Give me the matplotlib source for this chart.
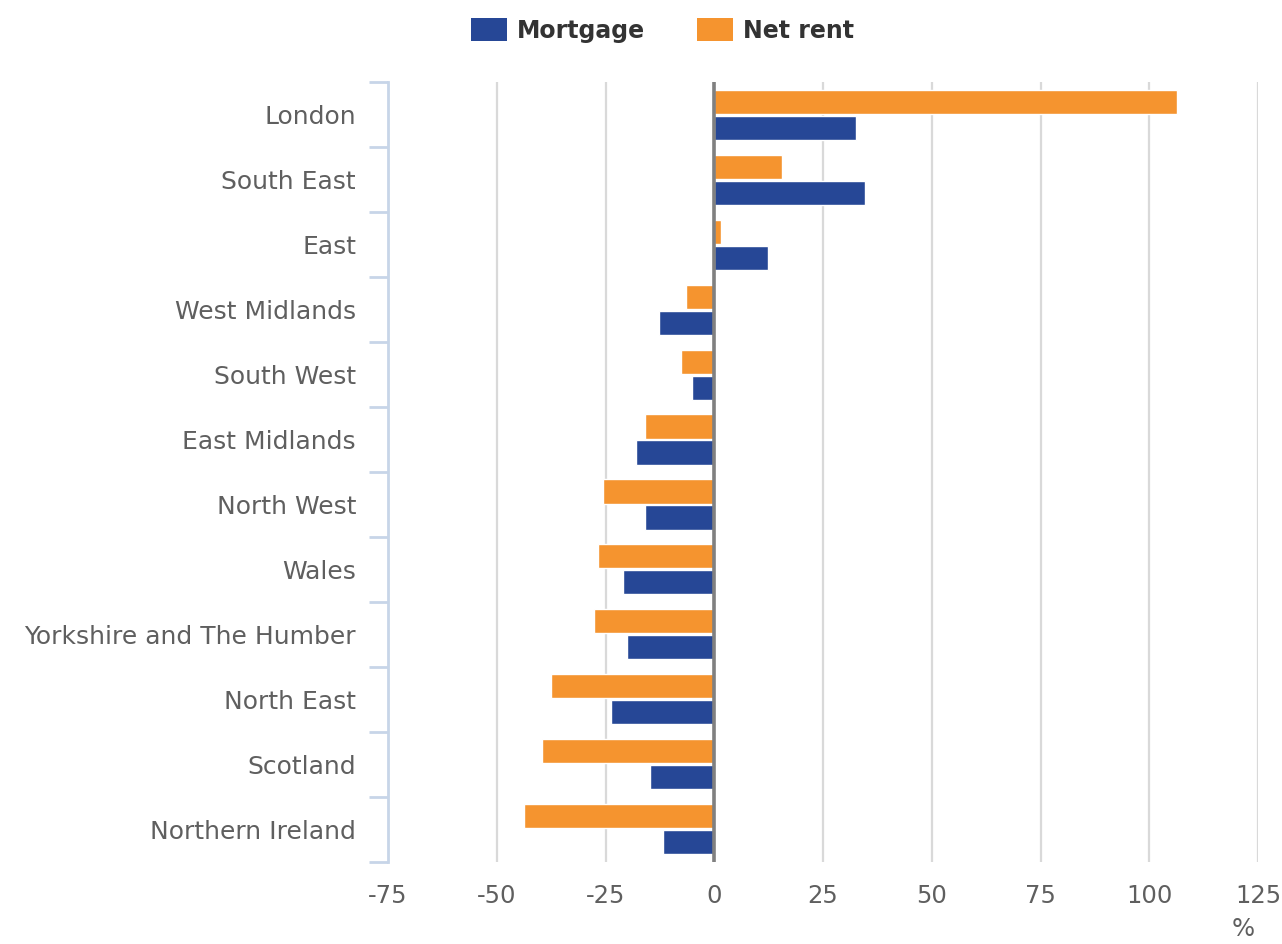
import numpy as np
import matplotlib
matplotlib.use("Agg")
import matplotlib.pyplot as plt
from matplotlib.patches import Patch

plt.rcParams["font.family"] = ["DejaVu Sans"]

regions = ["London", "South East", "East", "West Midlands", "South West",
           "East Midlands", "North West", "Wales", "Yorkshire and The Humber",
           "North East", "Scotland", "Northern Ireland"]
mortgage = [32.6, 34.7, 12.4, -12.6, -5.1, -17.9, -15.9, -20.9, -20.0, -23.7, -14.7, -11.7]
net_rent = [106.4, 15.5, 1.5, -6.5, -7.6, -15.9, -25.5, -26.7, -27.6, -37.5, -39.5, -43.7]
x_ticks = [-75, -50, -25, 0, 25, 50, 75, 100, 125]

BLUE = "#264796"
ORANGE = "#f5942f"
TEXT = "#5f5f5f"

fig = plt.figure(figsize=(12.82, 9.44), dpi=100)
ax = fig.add_axes([0.3027, 0.087, 0.6786, 0.826])

y = np.arange(len(regions))
h = 0.37
ax.barh(y - 0.2, net_rent, height=h, color=ORANGE, edgecolor="white", lw=1, zorder=2)
ax.barh(y + 0.2, mortgage, height=h, color=BLUE, edgecolor="white", lw=1, zorder=2)
ax.axvline(0, color="#808080", lw=2.6, zorder=3)

ax.set_xlim(-75, 125)
ax.set_ylim(len(regions) - 0.5, -0.5)
ax.set_xticks(x_ticks)
ax.set_xticklabels([str(t) for t in x_ticks], fontsize=17.5, color=TEXT)
ax.tick_params(axis="x", length=0, pad=16)
ax.grid(axis="x", color="#d9d9d9", lw=1.6, zorder=0)

ax.set_yticks(y)
ax.set_yticklabels(regions, fontsize=18, color=TEXT)
ax.set_yticks(np.arange(len(regions) + 1) - 0.5, minor=True)
ax.tick_params(axis="y", which="major", length=0, pad=23)
ax.tick_params(axis="y", which="minor", length=14, width=2, color="#c7d5e8")

for s in ["top", "right", "bottom"]:
    ax.spines[s].set_visible(False)
ax.spines["left"].set_color("#c7d5e8")
ax.spines["left"].set_linewidth(2)

fig.text(0.97, 0.003, "%", fontsize=17.5, color=TEXT, ha="center", va="bottom")

handles = [Patch(facecolor=BLUE, label="Mortgage"), Patch(facecolor=ORANGE, label="Net rent")]
fig.legend(handles=handles, loc="upper center", bbox_to_anchor=(0.517, 1.003), ncol=2,
           frameon=False, prop={"weight": "bold", "size": 17}, labelcolor="#333333",
           handlelength=1.5, handleheight=1.1, columnspacing=2.2, handletextpad=0.45)

fig.savefig("out.png", dpi=100)
